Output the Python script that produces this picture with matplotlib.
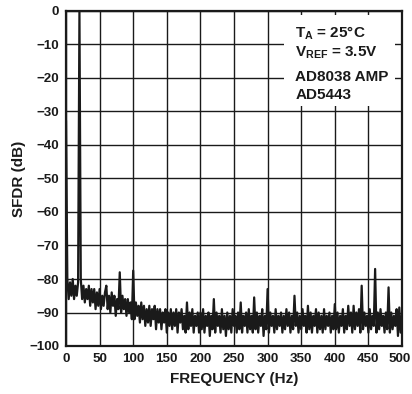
import matplotlib
matplotlib.use("Agg")
import matplotlib.pyplot as plt
import matplotlib.transforms as mtransforms
import numpy as np
from matplotlib.patches import Rectangle

plt.rcParams['font.family'] = ['Liberation Sans', 'DejaVu Sans']
plt.rcParams['font.weight'] = 'bold'
plt.rcParams['mathtext.fontset'] = 'custom'
plt.rcParams['mathtext.rm'] = 'Liberation Sans:bold'
plt.rcParams['mathtext.bf'] = 'Liberation Sans:bold'
plt.rcParams['mathtext.it'] = 'Liberation Sans:bold'

freq_step = 2  # Hz between samples
sfdr_db = [
    -33, -80, -86, -81, -85, -80, -86, -82, -85, -81,
    0, -80, -86, -82, -87, -83, -86, -82, -88, -83,
    -87, -83, -89, -84, -88, -83, -89, -85, -88, -84,
    -82, -89, -85, -90, -84, -88, -85, -91, -86, -89,
    -78, -90, -85, -89, -86, -91, -86, -90, -87, -92,
    -77.5, -92, -87, -91, -88, -93, -87, -92, -88, -94,
    -89, -93, -88, -94, -89, -92, -88, -95, -89, -93,
    -89, -95, -90, -93, -89, -96, -90, -94, -89, -95,
    -90, -94, -89, -96, -90, -93, -89, -95, -91, -96,
    -87, -95, -90, -94, -89, -96, -91, -94, -90, -96,
    -90, -95, -89, -96, -91, -94, -90, -97, -91, -95,
    -86, -96, -90, -94, -91, -96, -89, -95, -91, -97,
    -90, -95, -91, -96, -89, -94, -91, -96, -90, -95,
    -87, -96, -91, -94, -90, -96, -89, -95, -91, -96,
    -85.5, -95, -90, -96, -91, -94, -89, -97, -91, -95,
    -83, -96, -90, -94, -91, -96, -89, -95, -91, -94,
    -90, -96, -91, -95, -89, -94, -90, -96, -91, -95,
    -85, -94, -90, -96, -91, -95, -89, -94, -91, -96,
    -88, -95, -90, -96, -91, -94, -89, -96, -90, -95,
    -91, -96, -89, -95, -91, -94, -90, -96, -91, -95,
    -87.5, -95, -90, -96, -91, -94, -89, -96, -91, -95,
    -88, -94, -90, -96, -88, -95, -90, -94, -89, -96,
    -82, -95, -90, -94, -91, -96, -89, -95, -91, -94,
    -77, -96, -90, -95, -89, -94, -91, -96, -90, -95,
    -82.5, -96, -90, -95, -91, -94, -89, -97, -88.5, -96,
    -91,
]
freq_hz = np.arange(len(sfdr_db)) * freq_step

x_ticks = [0, 50, 100, 150, 200, 250, 300, 350, 400, 450, 500]
y_ticks = [0, -10, -20, -30, -40, -50, -60, -70, -80, -90, -100]
legend_lines = [r"$\mathregular{T_A}$ = 25°C", r"$\mathregular{V_{REF}}$ = 3.5V", "AD8038 AMP", "AD5443"]
legend_y = [0.922, 0.863, 0.791, 0.737]

fig = plt.figure(figsize=(4.12, 3.94), dpi=100)
ax = fig.add_axes([66/412, 48/394, 336/412, 335/394])
ax.plot(freq_hz, sfdr_db, color='#1a1a1a', lw=1.6, zorder=3)
ax.set_xlim(0, 500)
ax.set_ylim(-100, 0)
ax.set_xticks(x_ticks)
ax.set_yticks(y_ticks)
ax.set_xticklabels([str(v) for v in x_ticks])
ax.set_yticklabels([("\u2212" + str(-v)) if v < 0 else "0" for v in y_ticks])
ax.grid(True, color='#1a1a1a', lw=1.0, zorder=1)
ax.set_axisbelow(True)
ax.tick_params(length=0, labelsize=9.6, pad=5, colors='#1a1a1a')
for s in ax.spines.values():
    s.set_linewidth(1.6)
    s.set_color('#1a1a1a')
    s.set_zorder(5)
# nudge the last x tick label so it stays inside the canvas
last = ax.get_xticklabels()[-1]
last.set_transform(last.get_transform() + mtransforms.ScaledTranslation(-2.5/100, 0, fig.dpi_scale_trans))

ax.add_patch(Rectangle((324, -28.5), 166, 27.3, facecolor='white', edgecolor='none', zorder=4))
for t, yy in zip(legend_lines, legend_y):
    ax.text(0.683, yy, t, transform=ax.transAxes, fontsize=11, fontweight='bold',
            va='baseline', ha='left', color='#1a1a1a', zorder=6)

ax.set_xlabel("FREQUENCY (Hz)", fontsize=11, fontweight='bold', labelpad=5, color='#1a1a1a')
ax.set_ylabel("SFDR (dB)", fontsize=11, fontweight='bold', labelpad=2, color='#1a1a1a')

fig.savefig("out.png", dpi=100)
